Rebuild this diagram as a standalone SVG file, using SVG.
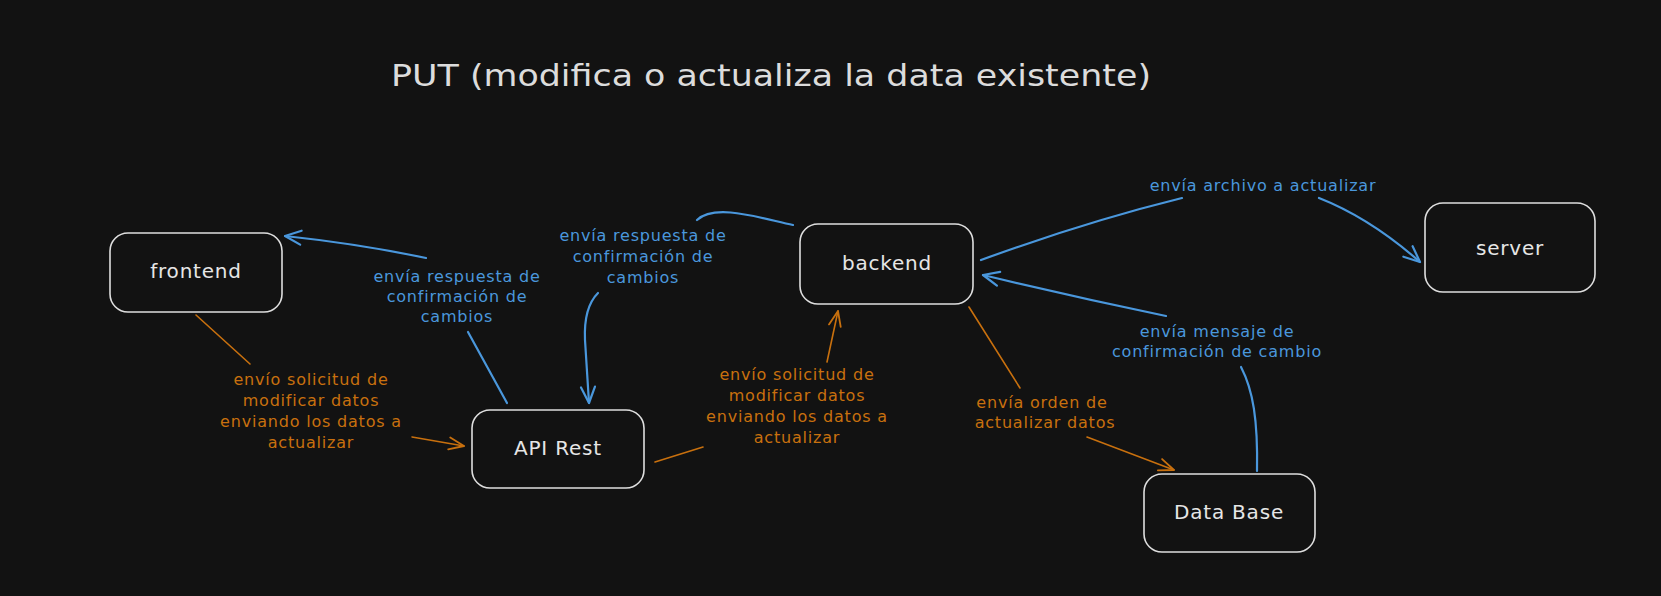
<svg xmlns="http://www.w3.org/2000/svg" width="1661" height="596" viewBox="0 0 1661 596">
<defs>
<style>
.bg{fill:#121212}
.node rect{fill:#121212;stroke:#dedede;stroke-width:1.6}
.node text{font-family:"DejaVu Sans","Liberation Sans",sans-serif;font-size:20px;letter-spacing:0.8px;fill:#e6e6e6;text-anchor:middle}
.title{font-family:"DejaVu Sans","Liberation Sans",sans-serif;font-size:31px;fill:#dcdcdc;text-anchor:middle}
.lbl{font-family:"DejaVu Sans","Liberation Sans",sans-serif;font-size:16px;letter-spacing:0.8px;text-anchor:middle}
.lb{fill:#4a97dc}
.lo{fill:#c8700e}
.cb{fill:none;stroke:#4a97dc;stroke-width:2.2;stroke-linecap:round}
.co{fill:none;stroke:#c8700e;stroke-width:1.6;stroke-linecap:round}
</style>
<marker id="ab" markerUnits="userSpaceOnUse" markerWidth="24" markerHeight="24" viewBox="-20 -12 24 24" refX="0" refY="0" orient="auto">
<path d="M-16,-7 L0,0 L-16,7" fill="none" stroke="#4a97dc" stroke-width="2.2" stroke-linecap="round" stroke-linejoin="round"/>
</marker>
<marker id="ao" markerUnits="userSpaceOnUse" markerWidth="24" markerHeight="24" viewBox="-20 -12 24 24" refX="0" refY="0" orient="auto">
<path d="M-15,-6 L0,0 L-15,6" fill="none" stroke="#c8700e" stroke-width="1.8" stroke-linecap="round" stroke-linejoin="round"/>
</marker>
</defs>
<rect class="bg" x="0" y="0" width="1661" height="596"/>
<text class="title" x="771" y="86" textLength="760" lengthAdjust="spacingAndGlyphs">PUT (modifica o actualiza la data existente)</text>

<g id="connectors">
<!-- API Rest -> frontend (blue) -->
<g id="c-api-frontend">
<path class="cb" d="M507,403 L468,332"/>
<path class="cb" d="M426,258 Q360,244 285,236" marker-end="url(#ab)"/>
<text class="lbl lb" x="457" y="282">envía respuesta de</text>
<text class="lbl lb" x="457" y="302">confirmación de</text>
<text class="lbl lb" x="457" y="322">cambios</text>
</g>
<!-- frontend -> API Rest (orange) -->
<g id="c-frontend-api">
<path class="co" d="M196,315 L250,364"/>
<path class="co" d="M412,437 L464,446" marker-end="url(#ao)"/>
<text class="lbl lo" x="311" y="385">envío solicitud de</text>
<text class="lbl lo" x="311" y="406">modificar datos</text>
<text class="lbl lo" x="311" y="427">enviando los datos a</text>
<text class="lbl lo" x="311" y="448">actualizar</text>
</g>
<!-- backend -> API Rest (blue) -->
<g id="c-backend-api">
<path class="cb" d="M793,225 C760,218 715,203 697,220"/>
<path class="cb" d="M598,293 C588,303 584,318 585,340 L589,403" marker-end="url(#ab)"/>
<text class="lbl lb" x="643" y="241">envía respuesta de</text>
<text class="lbl lb" x="643" y="262">confirmación de</text>
<text class="lbl lb" x="643" y="283">cambios</text>
</g>
<!-- API Rest -> backend (orange) -->
<g id="c-api-backend">
<path class="co" d="M655,462 L703,447"/>
<path class="co" d="M827,362 L838,311" marker-end="url(#ao)"/>
<text class="lbl lo" x="797" y="380">envío solicitud de</text>
<text class="lbl lo" x="797" y="401">modificar datos</text>
<text class="lbl lo" x="797" y="422">enviando los datos a</text>
<text class="lbl lo" x="797" y="443">actualizar</text>
</g>
<!-- backend -> server (blue) -->
<g id="c-backend-server">
<path class="cb" d="M981,260 Q1085,222 1182,198"/>
<path class="cb" d="M1319,198 Q1370,218 1420,262" marker-end="url(#ab)"/>
<text class="lbl lb" x="1263" y="191">envía archivo a actualizar</text>
</g>
<!-- Data Base -> backend (blue) -->
<g id="c-db-backend">
<path class="cb" d="M1257,471 C1258,420 1253,390 1241,367"/>
<path class="cb" d="M1166,316 Q1075,297 983,275" marker-end="url(#ab)"/>
<text class="lbl lb" x="1217" y="337">envía mensaje de</text>
<text class="lbl lb" x="1217" y="357">confirmación de cambio</text>
</g>
<!-- backend -> Data Base (orange) -->
<g id="c-backend-db">
<path class="co" d="M969,307 L1020,388"/>
<path class="co" d="M1087,437 L1174,470" marker-end="url(#ao)"/>
<text class="lbl lo" x="1042" y="408">envía orden de</text>
<text class="lbl lo" x="1045" y="428">actualizar datos</text>
</g>
</g>

<g id="frontend" class="node">
<rect x="110" y="233" width="172" height="79" rx="18"/>
<text x="196" y="278">frontend</text>
</g>
<g id="api-rest" class="node">
<rect x="472" y="410" width="172" height="78" rx="18"/>
<text x="558" y="455">API Rest</text>
</g>
<g id="backend" class="node">
<rect x="800" y="224" width="173" height="80" rx="18"/>
<text x="887" y="270">backend</text>
</g>
<g id="server" class="node">
<rect x="1425" y="203" width="170" height="89" rx="18"/>
<text x="1510" y="255">server</text>
</g>
<g id="data-base" class="node">
<rect x="1144" y="474" width="171" height="78" rx="18"/>
<text x="1229" y="519">Data Base</text>
</g>
</svg>
